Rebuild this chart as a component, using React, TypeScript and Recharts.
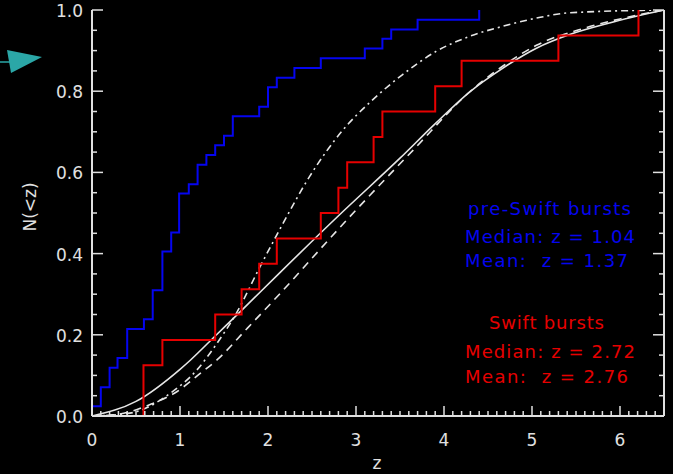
import React from "react";
import { Customized, Line, LineChart, XAxis, YAxis } from "recharts";

// cumulative redshift distributions
const preSwiftZ = [0, 0, 0.1, 0.2, 0.29, 0.4, 0.59, 0.69, 0.8, 0.9, 0.99, 1.1, 1.2, 1.3, 1.4, 1.5, 1.6, 1.9, 2.0, 2.1, 2.3, 2.6, 3.1, 3.3, 3.4, 3.7, 4.4];
const preSwiftN = [0, 0.024, 0.071, 0.119, 0.143, 0.214, 0.238, 0.31, 0.405, 0.452, 0.548, 0.571, 0.619, 0.643, 0.667, 0.69, 0.738, 0.762, 0.81, 0.833, 0.857, 0.881, 0.905, 0.929, 0.952, 0.976, 1.0];

const swiftZ = [0.585, 0.585, 0.8, 1.4, 1.7, 1.9, 2.1, 2.6, 2.8, 2.9, 3.2, 3.3, 3.9, 4.2, 5.3, 6.21];
const swiftN = [0, 0.125, 0.1875, 0.25, 0.3125, 0.375, 0.4375, 0.5, 0.5625, 0.625, 0.6875, 0.75, 0.8125, 0.875, 0.9375, 1.0];

// model curves
const solidZ = [0, 0.5, 1.0, 1.12, 1.4, 1.7, 2.13, 2.81, 3.5, 3.91, 4.29, 4.67, 5.05, 5.42, 5.88, 6.5];
const solidN = [0, 0.036, 0.115, 0.138, 0.197, 0.26, 0.352, 0.495, 0.635, 0.722, 0.798, 0.857, 0.906, 0.939, 0.968, 1.0];

const dashedZ = [0, 0.26, 0.68, 0.95, 1.23, 1.42, 1.76, 2.13, 2.79, 3.12, 3.65, 4.29, 4.67, 5.05, 5.61, 6.0, 6.5];
const dashedN = [0, 0.003, 0.03, 0.058, 0.105, 0.138, 0.215, 0.3, 0.458, 0.535, 0.655, 0.798, 0.862, 0.913, 0.956, 0.978, 1.0];

const dashDotZ = [0, 0.43, 0.89, 1.19, 1.42, 1.64, 1.91, 2.13, 2.47, 2.85, 3.17, 3.53, 3.91, 4.29, 4.67, 5.05, 5.42, 6.5];
const dashDotN = [0, 0.007, 0.056, 0.113, 0.179, 0.253, 0.368, 0.458, 0.589, 0.704, 0.775, 0.841, 0.898, 0.935, 0.96, 0.98, 0.993, 1.0];

const xTicks = Array.from({ length: 66 }, (_, i) => i / 10);
const yTicks = Array.from({ length: 21 }, (_, i) => i / 20);

const BLUE = "#0505f0";
const RED = "#e60000";
const WHITE = "#e6e6e6";
const AXIS = "#e0e0e0";
const FONT = "DejaVu Sans";

const pts = (z: number[], n: number[]) => z.map((v, i) => ({ z: v, n: n[i] }));

const isMajorX = (v: number) => Math.abs(v - Math.round(v)) < 1e-6;
const isMajorY = (v: number) => Math.abs(v * 5 - Math.round(v * 5)) < 1e-6;

function BottomTick({ x, y, payload }: any) {
  const major = isMajorX(payload.value);
  return (
    <g>
      <line x1={x} y1={y} x2={x} y2={y - (major ? 10 : 5)} stroke={AXIS} strokeWidth={1.5} />
      {major && (
        <text x={x} y={y + 24} textAnchor="middle" dominantBaseline="central" fill={AXIS} fontSize={17} fontFamily={FONT}>
          {Math.round(payload.value)}
        </text>
      )}
    </g>
  );
}

function TopTick({ x, y, payload }: any) {
  const major = isMajorX(payload.value);
  return <line x1={x} y1={y} x2={x} y2={y + (major ? 9 : 4)} stroke={AXIS} strokeWidth={1.5} />;
}

function LeftTick({ x, y, payload }: any) {
  const major = isMajorY(payload.value);
  return (
    <g>
      <line x1={x} y1={y} x2={x + (major ? 11 : 5)} y2={y} stroke={AXIS} strokeWidth={1.5} />
      {major && (
        <text x={x - 9} y={y + 1} textAnchor="end" dominantBaseline="central" fill={AXIS} fontSize={17} fontFamily={FONT}>
          {payload.value.toFixed(1)}
        </text>
      )}
    </g>
  );
}

function RightTick({ x, y, payload }: any) {
  const major = isMajorY(payload.value);
  return <line x1={x} y1={y} x2={x - (major ? 11 : 5)} y2={y} stroke={AXIS} strokeWidth={1.5} />;
}

function Note({ x, y, w, color, children }: any) {
  return (
    <text x={x} y={y} fill={color} textLength={w} lengthAdjust="spacing" xmlSpace="preserve" style={{ whiteSpace: "pre" }}>
      {children}
    </text>
  );
}

function Annotations() {
  return (
    <g fontFamily={FONT} fontSize={18}>
      <Note x={468} y={215} w={163} color={BLUE}>pre-Swift bursts</Note>
      <Note x={465} y={243} w={170} color={BLUE}>Median: z = 1.04</Note>
      <Note x={465} y={267} w={163} color={BLUE}>{"Mean:  z = 1.37"}</Note>
      <Note x={489} y={329} w={115} color={RED}>Swift bursts</Note>
      <Note x={465} y={358} w={170} color={RED}>Median: z = 2.72</Note>
      <Note x={465} y={383} w={163} color={RED}>{"Mean:  z = 2.76"}</Note>
      <text x={377} y={463} fill={AXIS} fontSize={17} textAnchor="middle" dominantBaseline="central">z</text>
      <text
        x={30}
        y={207}
        fill={AXIS}
        fontSize={17}
        textAnchor="middle"
        dominantBaseline="central"
        transform="rotate(-90 30 207)"
      >
        N(&lt;z)
      </text>
      <line x1={0} y1={62} x2={10} y2={62} stroke="#2ba7a7" strokeWidth={1.5} />
      <polygon points="7,50 42,57 11,73" fill="#2ba7a7" />
    </g>
  );
}

export default function App() {
  return (
    <div style={{ position: "absolute", left: 0, top: 0, width: 673, height: 474, background: "#000" }}>
      <LineChart width={673} height={474} margin={{ top: 10, right: 0, bottom: 0, left: 0 }}>
        <XAxis
          xAxisId="b"
          dataKey="z"
          type="number"
          domain={[0, 6.5]}
          ticks={xTicks}
          interval={0}
          height={58}
          tickSize={0}
          tickMargin={0}
          tickLine={false}
          axisLine={{ stroke: AXIS, strokeWidth: 2 }}
          tick={<BottomTick />}
          allowDataOverflow
        />
        <XAxis
          xAxisId="t"
          orientation="top"
          dataKey="z"
          type="number"
          domain={[0, 6.5]}
          ticks={xTicks}
          interval={0}
          height={0}
          tickSize={0}
          tickMargin={0}
          tickLine={false}
          axisLine={{ stroke: AXIS, strokeWidth: 2 }}
          tick={<TopTick />}
          allowDataOverflow
        />
        <YAxis
          yAxisId="l"
          type="number"
          domain={[0, 1]}
          ticks={yTicks}
          interval={0}
          width={92}
          tickSize={0}
          tickMargin={0}
          tickLine={false}
          axisLine={{ stroke: AXIS, strokeWidth: 2 }}
          tick={<LeftTick />}
          allowDataOverflow
        />
        <YAxis
          yAxisId="r"
          orientation="right"
          type="number"
          domain={[0, 1]}
          ticks={yTicks}
          interval={0}
          width={9}
          tickSize={0}
          tickMargin={0}
          tickLine={false}
          axisLine={{ stroke: AXIS, strokeWidth: 2 }}
          tick={<RightTick />}
          allowDataOverflow
        />
        <Line xAxisId="b" yAxisId="l" data={pts(dashDotZ, dashDotN)} dataKey="n" type="monotone" stroke={WHITE} strokeWidth={1.6} strokeDasharray="7 4 2 4" dot={false} activeDot={false} isAnimationActive={false} />
        <Line xAxisId="b" yAxisId="l" data={pts(dashedZ, dashedN)} dataKey="n" type="monotone" stroke={WHITE} strokeWidth={1.6} strokeDasharray="8 6" dot={false} activeDot={false} isAnimationActive={false} />
        <Line xAxisId="b" yAxisId="l" data={pts(solidZ, solidN)} dataKey="n" type="monotone" stroke={WHITE} strokeWidth={1.6} dot={false} activeDot={false} isAnimationActive={false} />
        <Line xAxisId="b" yAxisId="l" data={pts(swiftZ, swiftN)} dataKey="n" type="stepAfter" stroke={RED} strokeWidth={2} dot={false} activeDot={false} isAnimationActive={false} />
        <Line xAxisId="b" yAxisId="l" data={pts(preSwiftZ, preSwiftN)} dataKey="n" type="stepAfter" stroke={BLUE} strokeWidth={2} dot={false} activeDot={false} isAnimationActive={false} />
        <Customized component={Annotations} />
      </LineChart>
    </div>
  );
}
